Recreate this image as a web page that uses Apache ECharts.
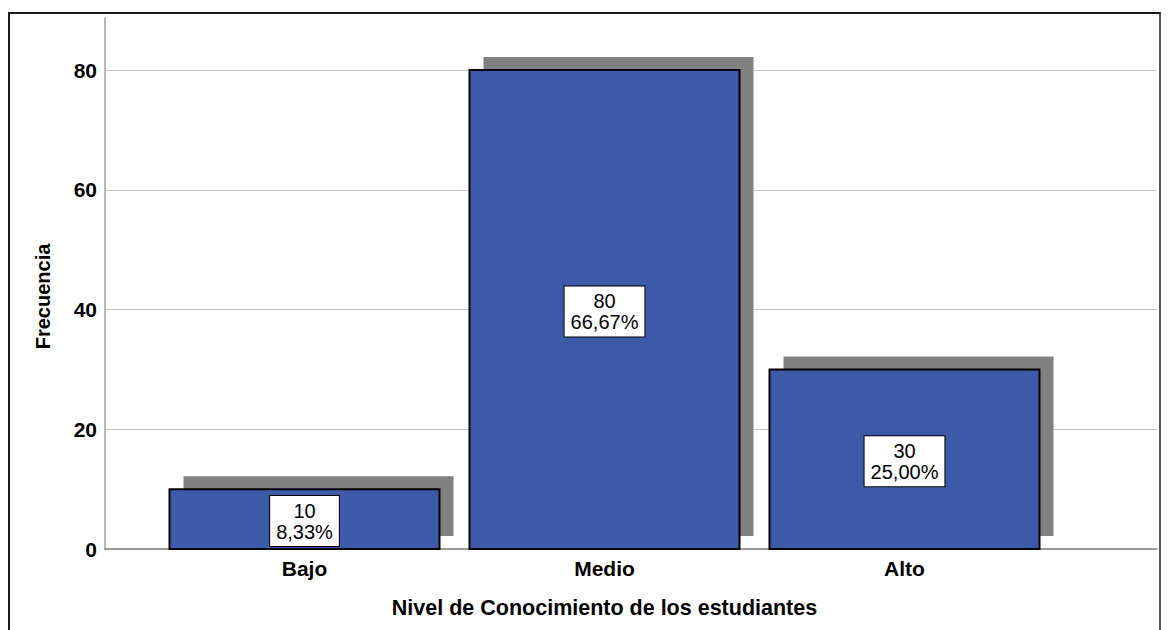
<!DOCTYPE html>
<html>
<head>
<meta charset="utf-8">
<script src="https://cdn.jsdelivr.net/npm/echarts@6/dist/echarts.min.js"></script>
<style>
  html, body { margin: 0; padding: 0; background: #fff; }
  #chart { position: absolute; left: 0; top: 0; width: 1168px; height: 630px; }
  #frame { position: absolute; left: 8px; top: 12px; width: 1153px; height: 640px;
           border: 2px solid #1a1a1a; border-right-color: #555; pointer-events: none; box-sizing: border-box; }
</style>
</head>
<body>
<div id="chart"></div>
<div id="frame"></div>
<script>
const categories = ['Bajo', 'Medio', 'Alto'];
const counts = [10, 80, 30];
const percentLabels = ['8,33%', '66,67%', '25,00%'];
const yTicks = [0, 20, 40, 60, 80];

const FONT = '"Liberation Sans", Arial, sans-serif';
const Y_MAX = 88.7;

const chart = echarts.init(document.getElementById('chart'), null, { renderer: 'svg' });

function renderItem(params, api) {
  const i = api.value(0);
  const v = api.value(1);
  const top = api.coord([i, v]);
  const base = api.coord([i, 0]);
  const w = api.size([1, 0])[0] * 0.9;
  const h = base[1] - top[1];
  const x0 = top[0] - w / 2;
  return {
    type: 'group',
    children: [
      { type: 'rect', shape: { x: x0 + 14, y: top[1] - 13, width: w, height: h },
        style: { fill: '#808080' } },
      { type: 'rect', shape: { x: x0, y: top[1], width: w, height: h },
        style: { fill: '#3E5BA9', stroke: '#000', lineWidth: 2 } },
      { type: 'text', x: top[0], y: top[1] + h / 2 + 2,
        style: {
          text: String(counts[params.dataIndex]) + '\n' + percentLabels[params.dataIndex],
          fill: '#000', font: 'normal 20px ' + FONT, lineHeight: 21,
          align: 'center', verticalAlign: 'middle',
          backgroundColor: '#fff', borderColor: '#000', borderWidth: 1, padding: [4, 6]
        } }
    ]
  };
}

chart.setOption({
  animation: false,
  backgroundColor: '#fff',
  grid: [
    { left: 105, right: 11, top: 18, bottom: 81 },
    { left: 154.5, width: 900, top: 18, bottom: 81 }
  ],
  xAxis: [
    { type: 'value', gridIndex: 0, min: 0, max: 1,
      axisLine: { show: true, lineStyle: { color: '#7a7a7a', width: 1.5 } },
      axisTick: { show: false }, axisLabel: { show: false }, splitLine: { show: false } },
    { type: 'category', gridIndex: 1, data: categories,
      axisLine: { show: false }, axisTick: { show: false },
      axisLabel: { margin: 9, color: '#000', fontFamily: FONT, fontWeight: 'bold', fontSize: 21 },
      name: 'Nivel de Conocimiento de los estudiantes', nameLocation: 'middle', nameGap: 48,
      nameTextStyle: { color: '#000', fontFamily: FONT, fontWeight: 'bold', fontSize: 21.5 } }
  ],
  yAxis: [
    { type: 'value', gridIndex: 0, min: yTicks[0], max: Y_MAX, interval: 20,
      axisLine: { show: true, lineStyle: { color: '#a0a0a0', width: 1.5 } },
      axisTick: { show: false },
      axisLabel: { margin: 8, color: '#000', fontFamily: FONT, fontWeight: 'bold', fontSize: 21,
                   showMaxLabel: false },
      splitLine: { show: true, showMinLine: false, showMaxLine: false,
                   lineStyle: { color: '#c4c4c4', width: 1 } },
      name: 'Frecuencia', nameLocation: 'middle', nameGap: 52, nameRotate: 90,
      nameTextStyle: { color: '#000', fontFamily: FONT, fontWeight: 'bold', fontSize: 20,
                       padding: [0, 26, 0, 0] } },
    { type: 'value', gridIndex: 1, min: 0, max: Y_MAX, show: false, splitLine: { show: false } }
  ],
  series: [
    { type: 'custom', xAxisIndex: 1, yAxisIndex: 1, z: 5,
      renderItem: renderItem,
      data: counts.map((v, i) => [i, v]) }
  ]
});
</script>
</body>
</html>
